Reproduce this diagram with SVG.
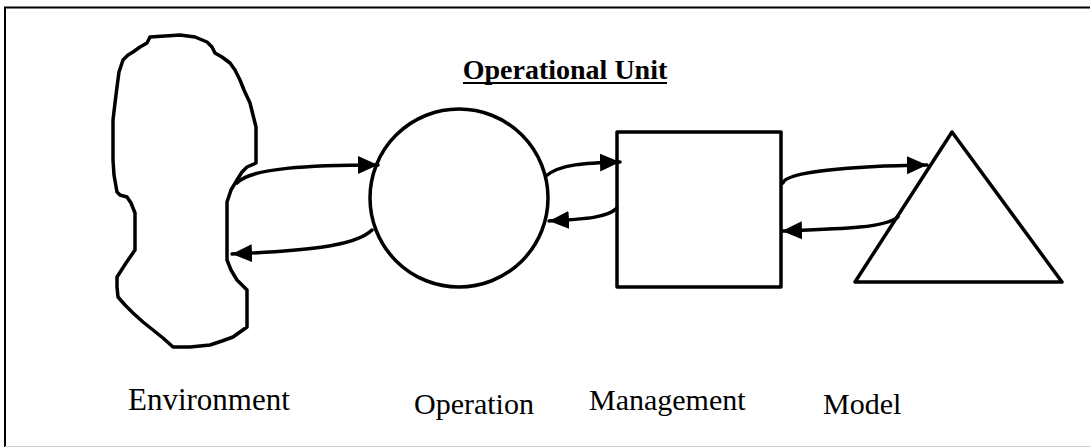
<svg xmlns="http://www.w3.org/2000/svg" width="1090" height="448" viewBox="0 0 1090 448">
<style>
.shape{fill:none;stroke:#000;stroke-width:3.5;stroke-linejoin:round}
.conn{fill:none;stroke:#000;stroke-width:3.5;stroke-linecap:round}
</style>
<defs>
<marker id="ah" markerUnits="userSpaceOnUse" markerWidth="22" markerHeight="20" refX="20" refY="9" orient="auto">
<path d="M0,0 L20,9 L0,18 z" fill="#000"/>
</marker>
</defs>
<rect width="1090" height="448" fill="#fff"/>
<g id="frame">
<path d="M5,447 L5,7.5 L1090,7.5" fill="none" stroke="#000" stroke-width="2"/>
<path d="M5,446.5 L1090,446.5" fill="none" stroke="#ccc" stroke-width="1"/>
</g>
<g id="title">
<text x="565" y="79" text-anchor="middle" font-size="28" font-weight="bold" font-family="Liberation Serif, serif">Operational Unit</text>
<line x1="463" y1="83" x2="667" y2="83" stroke="#000" stroke-width="2"/>
</g>
<g id="environment">
<path class="shape" d="M150,37 L165,36 L180,35 L195,37 L207,42 L212,47 L215,53 L222,57 L230,63 L235,70 L240,80 L244,90 L250,103 L253,115 L256,127 L256,145 L256,163 L247,167 L242,172 L237,180 L231,190 L227,202 L227,230 L227,260 L231,270 L237,280 L242,285 L247,290 L247,308 L247,327 L240,332 L233,337 L222,341 L210,345 L190,347 L173,347 L163,338 L153,330 L143,322 L133,313 L125,305 L118,297 L117,287 L117,277 L126,263 L135,250 L135,230 L135,213 L131,203 L127,197 L120,195 L117,192 L114,175 L113,160 L113,140 L113,120 L115,103 L117,87 L119,72 L123,60 L128,55 L133,52 L140,47 L147,43 Z"/>
<text x="128" y="410" font-size="31" font-family="Liberation Serif, serif">Environment</text>
</g>
<g id="operation">
<circle class="shape" cx="459" cy="198" r="89"/>
<text x="414" y="414" font-size="30" font-family="Liberation Serif, serif">Operation</text>
</g>
<g id="management">
<rect class="shape" x="617" y="132" width="164" height="155"/>
<text x="589" y="410" font-size="30" font-family="Liberation Serif, serif">Management</text>
</g>
<g id="model">
<path class="shape" d="M952,132 L1062,282 L855,282 Z"/>
<text x="823" y="414" font-size="30" font-family="Liberation Serif, serif">Model</text>
</g>
<g id="connectors">
<path class="conn" d="M237,183 C250,168 310,165 378,165" marker-end="url(#ah)"/>
<path class="conn" d="M372,230 C355,247 300,251 232,254" marker-end="url(#ah)"/>
<path class="conn" d="M546,176 C560,164 585,163 620,162" marker-end="url(#ah)"/>
<path class="conn" d="M617,208 C607,218 585,219 549,221" marker-end="url(#ah)"/>
<path class="conn" d="M783,183 C785,172 850,166 927,165" marker-end="url(#ah)"/>
<path class="conn" d="M898,217 C885,228 840,229 782,231" marker-end="url(#ah)"/>
</g>
</svg>
